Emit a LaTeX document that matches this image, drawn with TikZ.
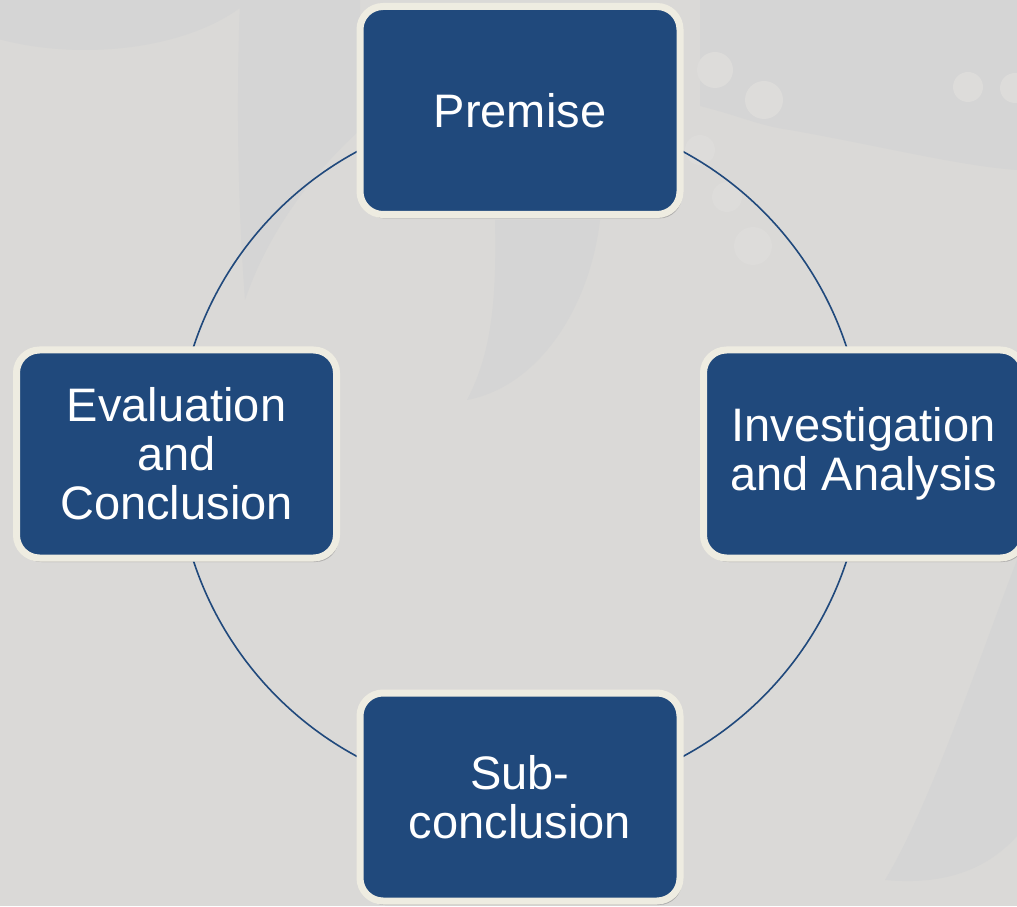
\documentclass[tikz,border=0pt]{standalone}
\usepackage{fontspec}
\setmainfont{Liberation Sans}
\usetikzlibrary{shadows}
\definecolor{bgc}{RGB}{218,217,215}
\definecolor{decor}{RGB}{213,213,213}
\definecolor{dotc}{RGB}{221,220,218}
\definecolor{boxblue}{RGB}{32,73,124}
\definecolor{cream}{RGB}{238,236,225}
\tikzset{
  x=1pt, y=1pt,
  stepbox/.style={rectangle, rounded corners=23pt, minimum width=320pt, minimum height=208pt,
    draw=cream, line width=7pt, fill=boxblue, text=white, align=center,
    font=\fontsize{47}{49}\selectfont,
    drop shadow={shadow xshift=2pt, shadow yshift=-4pt, opacity=0.3, fill=black!70}},
  ring/.style={draw=boxblue, line width=1.6pt},
  deco/.style={fill=decor, draw=none},
  dot/.style={fill=dotc, draw=none}
}
\begin{document}
\begin{tikzpicture}
\useasboundingbox (0,0) rectangle (1017,906);
\fill[bgc] (0,0) rectangle (1017,906);
\begin{scope}
\clip (0,0) rectangle (1017,906);
% faint background decoration
\fill[deco] (85,956) ellipse [x radius=190, y radius=100];
\fill[deco] (240,906) .. controls (236,800) and (238,700) .. (245,606)
  .. controls (270,680) and (320,740) .. (360,776) -- (360,906) -- cycle;
\fill[deco] (495,686) .. controls (497,600) and (490,550) .. (467,506)
  .. controls (540,520) and (590,600) .. (600,686) -- cycle;
\fill[deco] (700,906) -- (700,800) .. controls (740,790) and (760,780) .. (790,776)
  .. controls (880,760) and (960,740) .. (1017,736) -- (1017,906) -- cycle;
\fill[deco] (1017,346) .. controls (980,250) and (930,100) .. (885,26)
  .. controls (950,20) and (990,40) .. (1017,70) -- cycle;
\fill[dot] (715,836) circle (18);
\fill[dot] (764,806) circle (19);
\fill[dot] (700,756) circle (15);
\fill[dot] (727,709) circle (15);
\fill[dot] (753,660) circle (19);
\fill[dot] (968,819) circle (15);
\fill[dot] (1015,818) circle (15);
\end{scope}
% ring
\coordinate (ctr) at (520,452);
\draw[ring] (ctr) circle (343.5);
% boxes
\node[stepbox] (premise) at (520,795.5) {Premise};
\node[stepbox] (invest) at (863.5,452) {Investigation\\and Analysis};
\node[stepbox] (subc) at (520,109) {Sub-\\conclusion};
\node[stepbox] (evalc) at (176.5,452) {Evaluation\\and\\Conclusion};
\end{tikzpicture}
\end{document}
